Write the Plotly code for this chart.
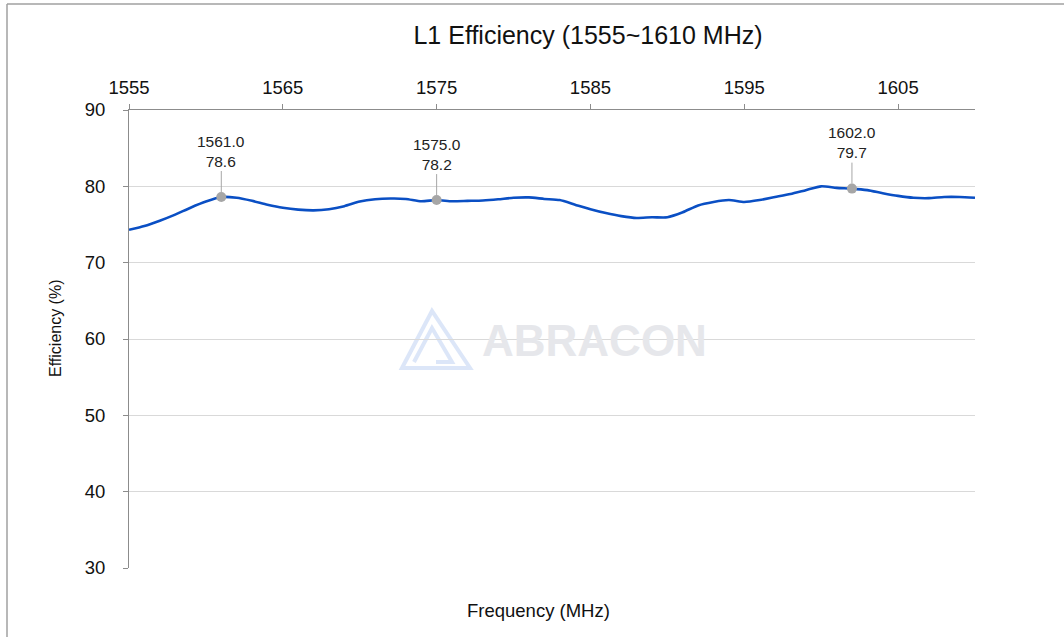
import plotly.graph_objects as go

freq = list(range(1555, 1611))
efficiency = [
    74.3, 74.8, 75.5, 76.3, 77.2, 78.0, 78.6, 78.5, 78.1, 77.6,
    77.2, 76.95, 76.85, 77.0, 77.4, 78.0, 78.3, 78.4, 78.35, 78.05,
    78.2, 78.05, 78.1, 78.15, 78.3, 78.5, 78.55, 78.35, 78.2, 77.6,
    77.0, 76.5, 76.1, 75.85, 75.95, 75.95, 76.6, 77.5, 77.95, 78.2,
    77.95, 78.2, 78.6, 79.0, 79.5, 80.0, 79.8, 79.7, 79.5, 79.1,
    78.75, 78.5, 78.45, 78.6, 78.6, 78.5,
]
marker_freq = [1561.0, 1575.0, 1602.0]
marker_eff = [78.6, 78.2, 79.7]
x_ticks = [1555, 1565, 1575, 1585, 1595, 1605]
y_ticks = [30, 40, 50, 60, 70, 80, 90]

FONT = "Liberation Sans, Arial, sans-serif"
W, H = 1064, 637
L, R, T, B = 129, 89, 110, 69
PW, PH = W - L - R, H - T - B

def px(x):
    return (x - L) / PW

def py(y):
    return (H - B - y) / PH

fig = go.Figure()
fig.add_trace(go.Scatter(
    x=freq, y=efficiency, mode="lines",
    line=dict(color="#0a4fc4", width=2.6, shape="spline", smoothing=0.6),
    hoverinfo="skip", showlegend=False,
))
fig.add_trace(go.Scatter(
    x=marker_freq, y=marker_eff, mode="markers",
    marker=dict(color="#a6a6a6", size=10),
    showlegend=False,
))

for f, e in zip(marker_freq, marker_eff):
    fig.add_annotation(
        x=f, y=e, text=f"{f:.1f}<br>{e:.1f}", showarrow=True,
        arrowhead=0, arrowwidth=1, arrowcolor="#a6a6a6",
        ax=0, ay=-46, standoff=5,
        font=dict(family=FONT, size=15.5, color="#222222"),
    )

# watermark
fig.add_annotation(
    xref="paper", yref="paper", x=px(594), y=py(340),
    xanchor="center", yanchor="middle",
    text="<b>ABRACON</b>", showarrow=False,
    font=dict(family="Liberation Sans, Arial", size=44, color="#e6e7eb"),
)
logo_color = "rgba(205,220,245,0.7)"
fig.add_shape(type="path", xref="paper", yref="paper",
              path=f"M {px(402)},{py(368)} L {px(432)},{py(311)} L {px(470)},{py(368)} Z",
              line=dict(color=logo_color, width=4), fillcolor="rgba(0,0,0,0)", layer="below")
fig.add_shape(type="path", xref="paper", yref="paper",
              path=f"M {px(414)},{py(362)} L {px(432)},{py(328)} L {px(452)},{py(362)} L {px(436)},{py(362)}",
              line=dict(color=logo_color, width=4), fillcolor="rgba(0,0,0,0)", layer="below")

# frame lines
fig.add_shape(type="line", xref="paper", yref="paper",
              x0=px(7), x1=px(7), y0=py(640), y1=py(4),
              line=dict(color="#a0a0a0", width=1.5))
fig.add_shape(type="line", xref="paper", yref="paper",
              x0=px(7), x1=px(1070), y0=py(4), y1=py(4),
              line=dict(color="#a0a0a0", width=1.5))

# axis titles
fig.add_annotation(xref="paper", yref="paper", x=px(538), y=py(610),
                   xanchor="center", yanchor="middle",
                   text="Frequency (MHz)", showarrow=False,
                   font=dict(family=FONT, size=18.5, color="#111111"))
fig.add_annotation(xref="paper", yref="paper", x=px(55), y=py(328),
                   xanchor="center", yanchor="middle",
                   text="Efficiency (%)", showarrow=False, textangle=-90,
                   font=dict(family=FONT, size=16, color="#111111"))

fig.update_layout(
    width=W, height=H,
    margin=dict(l=L, r=R, t=T, b=B),
    paper_bgcolor="white", plot_bgcolor="white",
    title=dict(text="L1 Efficiency (1555~1610 MHz)", x=588 / W, xanchor="center",
               y=1 - 35 / H, yanchor="middle",
               font=dict(family=FONT, size=25, color="#111111")),
    xaxis=dict(range=[1555, 1610], side="top", tickvals=x_ticks,
               showline=True, linecolor="#8c8c8c", linewidth=1,
               ticks="outside", ticklen=5, tickcolor="#8c8c8c",
               showgrid=False, zeroline=False, ticklabelstandoff=3,
               tickfont=dict(family=FONT, size=18.5, color="#111111")),
    yaxis=dict(range=[30, 90], tickvals=y_ticks,
               showline=True, linecolor="#8c8c8c", linewidth=1,
               ticks="outside", ticklen=5, tickcolor="#8c8c8c",
               showgrid=True, gridcolor="#d9d9d9", gridwidth=1,
               zeroline=False, ticklabelstandoff=14,
               tickfont=dict(family=FONT, size=18.5, color="#111111")),
    showlegend=False,
)

fig.write_html("out.html", config={"displayModeBar": False},
               post_script="document.body.style.margin='0';")
